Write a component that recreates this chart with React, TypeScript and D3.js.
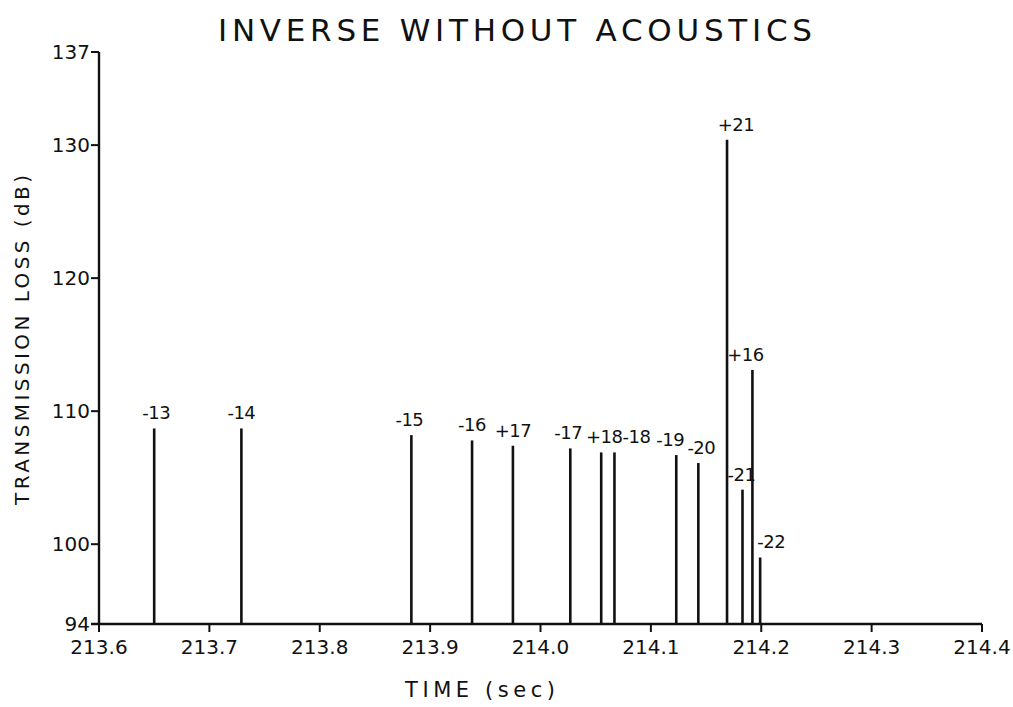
import React from "react";
import * as d3 from "d3";

const rayLabels = ["-13", "-14", "-15", "-16", "+17", "-17", "+18", "-18", "-19", "-20", "+21", "-21", "+16", "-22"];
const rayTimes = [213.65, 213.729, 213.883, 213.938, 213.975, 214.027, 214.055, 214.067, 214.123, 214.143, 214.169, 214.183, 214.192, 214.199];
const rayLoss = [108.7, 108.7, 108.2, 107.8, 107.4, 107.2, 106.9, 106.9, 106.7, 106.1, 130.4, 104.1, 113.1, 99.0];
const labelNudge = [2, 0, -2, 0, 0, -2, 3, 22, -6, 3, 9, -1, -7, 11];
const xTicks = [213.6, 213.7, 213.8, 213.9, 214.0, 214.1, 214.2, 214.3, 214.4];
const yTicks = [94, 100, 110, 120, 130, 137];

const W = 1013;
const H = 707;
const FONT = "'DejaVu Sans', 'Liberation Sans', sans-serif";

export default function App() {
  const x = d3.scaleLinear().domain([213.6, 214.4]).range([99, 982]);
  const y = d3.scaleLinear().domain([94, 137]).range([624, 52]);
  const x0 = x(213.6);
  const y0 = y(94);
  return (
    <svg width={W} height={H} style={{ display: "block", position: "absolute", left: 0, top: 0, background: "#fff" }}>
      <text x={515} y={41} textAnchor="middle" fontFamily={FONT} fontSize={31} textLength={594} lengthAdjust="spacing" fill="#111">
        INVERSE WITHOUT ACOUSTICS
      </text>
      {/* y axis */}
      <line x1={x0} x2={x0} y1={y(137)} y2={y0} stroke="#111" strokeWidth={2.4} />
      {yTicks.map((t) => (
        <g key={t}>
          <line x1={x0 - 8} x2={x0} y1={y(t)} y2={y(t)} stroke="#111" strokeWidth={2} />
          <text x={x0 - 9} y={y(t)} dy="0.35em" textAnchor="end" fontFamily={FONT} fontSize={20} fill="#111">
            {t}
          </text>
        </g>
      ))}
      <text
        transform={`translate(29,${340}) rotate(-90)`}
        textAnchor="middle"
        fontFamily={FONT}
        fontSize={20}
        textLength={330}
        lengthAdjust="spacing"
        fill="#111"
      >
        TRANSMISSION LOSS (dB)
      </text>
      {/* x axis */}
      <line x1={x0 - 8} x2={x(214.4)} y1={y0} y2={y0} stroke="#111" strokeWidth={2.4} />
      {xTicks.map((t) => (
        <g key={t}>
          <line x1={x(t)} x2={x(t)} y1={y0} y2={y0 + 8} stroke="#111" strokeWidth={2} />
          <text x={x(t)} y={y0 + 30} textAnchor="middle" fontFamily={FONT} fontSize={20} fill="#111">
            {d3.format(".1f")(t)}
          </text>
        </g>
      ))}
      <text x={480} y={697} textAnchor="middle" fontFamily={FONT} fontSize={21} textLength={150} lengthAdjust="spacing" fill="#111">
        TIME (sec)
      </text>
      {/* rays */}
      {rayTimes.map((t, i) => (
        <g key={i}>
          <line x1={x(t)} x2={x(t)} y1={y0} y2={y(rayLoss[i])} stroke="#111" strokeWidth={2.6} />
          <text
            x={x(t) + labelNudge[i]}
            y={y(rayLoss[i]) - 9}
            textAnchor="middle"
            fontFamily={FONT}
            fontSize={18}
            letterSpacing={-0.5}
            fill="#111"
          >
            {rayLabels[i]}
          </text>
        </g>
      ))}
    </svg>
  );
}
